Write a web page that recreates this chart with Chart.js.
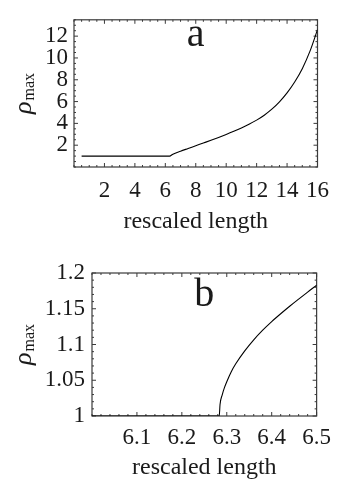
<!doctype html>
<html>
<head>
<title>rho max vs rescaled length</title>
<script src="https://cdn.jsdelivr.net/npm/chart.js@4.4.1/dist/chart.umd.min.js"></script>
<style>
	body { margin: 0; background: #fff; }
	#wrap { position: relative; width: 339px; height: 479px; }
	canvas { position: absolute; left: 0; }
	#chartA { top: 0; }
	#chartB { top: 240px; }
</style>
</head>
<body>
<div id="wrap">
	<canvas id="chartA" width="339" height="240"></canvas>
	<canvas id="chartB" width="339" height="239"></canvas>
</div>
<script>
// panel a: whole range of the rescaled length
var lengthA = [0.5, 6.28, 6.5, 7, 7.5, 8, 8.5, 9, 9.5, 10, 10.5, 11, 11.5, 12, 12.5, 13, 13.5, 14, 14.5, 15, 15.5, 16];
var rhoA    = [1, 1, 1.18, 1.45, 1.7, 1.95, 2.2, 2.45, 2.71, 2.98, 3.27, 3.58, 3.92, 4.3, 4.75, 5.3, 5.98, 6.8, 7.8, 9.02, 10.6, 12.6];
var xTicksA = [2, 4, 6, 8, 10, 12, 14, 16];
var yTicksA = [2, 4, 6, 8, 10, 12];

// panel b: close-up around the onset
var lengthB = [6.0, 6.2832, 6.285, 6.29, 6.295, 6.30, 6.31, 6.32, 6.34, 6.36, 6.38, 6.40, 6.42, 6.44, 6.46, 6.48, 6.50];
var rhoB    = [1, 1, 1.016, 1.030, 1.040, 1.048, 1.062, 1.073, 1.091, 1.1065, 1.12, 1.132, 1.143, 1.1535, 1.1635, 1.1733, 1.1828];
var xTicksB = [6.1, 6.2, 6.3, 6.4, 6.5];
var yTicksB = [1, 1.05, 1.1, 1.15, 1.2];

var SERIF = '"Liberation Serif", "Times New Roman", serif';
var INK = '#1a1a1a';

// frame with inward ticks on all four sides, panel letter and rho_max label
var framePlugin = {
	id: 'frame',
	beforeDatasetsDraw: function(chart, args, opts) {
		var ctx = chart.ctx, a = chart.chartArea;
		var x = chart.scales.x, y = chart.scales.y;
		ctx.save();
		ctx.strokeStyle = '#3a3a3a';
		ctx.lineWidth = 1.2;
		ctx.strokeRect(a.left, a.top, a.right - a.left, a.bottom - a.top);

		function ticksFor(scale, minor) {
			var out = [];
			var n = Math.round((scale.max - scale.min) / minor);
			for (var i = 0; i <= n; i++) {
				var v = scale.min + i * minor;
				var major = scale.ticks.some(function(t) { return Math.abs(t.value - v) < minor / 10; });
				out.push({ p: scale.getPixelForValue(v), len: major ? 4 : 2 });
			}
			return out;
		}
		ctx.lineWidth = 1;
		ctx.beginPath();
		ticksFor(x, opts.xMinor).forEach(function(t) {
			ctx.moveTo(t.p, a.bottom); ctx.lineTo(t.p, a.bottom - t.len);
			ctx.moveTo(t.p, a.top); ctx.lineTo(t.p, a.top + t.len);
		});
		ticksFor(y, opts.yMinor).forEach(function(t) {
			ctx.moveTo(a.left, t.p); ctx.lineTo(a.left + t.len, t.p);
			ctx.moveTo(a.right, t.p); ctx.lineTo(a.right - t.len, t.p);
		});
		ctx.stroke();
		ctx.restore();
	},
	afterDraw: function(chart, args, opts) {
		var ctx = chart.ctx, a = chart.chartArea;
		ctx.save();
		ctx.fillStyle = INK;
		ctx.font = '40px ' + SERIF;
		ctx.textAlign = 'center';
		ctx.textBaseline = 'alphabetic';
		ctx.fillText(opts.letter, (a.left + a.right) / 2, a.top + opts.letterDrop);

		// rotated rho with "max" subscript
		var cy = (a.top + a.bottom) / 2;
		ctx.translate(31, cy);
		ctx.rotate(-Math.PI / 2);
		ctx.textAlign = 'left';
		ctx.font = 'italic 26px ' + SERIF;
		var w1 = ctx.measureText('\u03c1').width;
		ctx.font = '16px ' + SERIF;
		var w2 = ctx.measureText('max').width;
		var start = -(w1 + w2 + 1) / 2;
		ctx.font = 'italic 26px ' + SERIF;
		ctx.fillText('\u03c1', start, 0);
		ctx.font = '16px ' + SERIF;
		ctx.fillText('max', start + w1 + 1, 3);
		ctx.restore();
	}
};

function makeChart(id, xs, ys, p) {
	var pts = xs.map(function(v, i) { return { x: v, y: ys[i] }; });
	return new Chart(document.getElementById(id), {
		type: 'line',
		data: {
			datasets: [{
				data: pts,
				borderColor: '#000',
				borderWidth: 1.1,
				pointRadius: 0,
				cubicInterpolationMode: 'monotone',
				fill: false
			}]
		},
		options: {
			responsive: false,
			animation: false,
			layout: { padding: { top: p.top, right: p.right, left: 0, bottom: 0 } },
			plugins: {
				legend: { display: false },
				tooltip: { enabled: false },
				frame: { letter: p.letter, letterDrop: p.letterDrop, xMinor: p.xMinor, yMinor: p.yMinor }
			},
			scales: {
				x: {
					type: 'linear',
					min: p.xMin, max: p.xMax,
					grid: { display: false, drawTicks: false },
					border: { display: false },
					afterBuildTicks: function(s) { s.ticks = p.xTicks.map(function(v) { return { value: v }; }); },
					afterFit: function(s) { s.height = p.xHeight; },
					ticks: {
						padding: p.xPad,
						maxRotation: 0,
						autoSkip: false,
						color: INK,
						font: { family: SERIF, size: 23 },
						callback: function(v) { return String(v); }
					},
					title: {
						display: true,
						text: 'rescaled length',
						color: INK,
						font: { family: SERIF, size: 24 },
						padding: { top: 0, bottom: p.titlePad }
					}
				},
				y: {
					type: 'linear',
					min: p.yMin, max: p.yMax,
					grid: { display: false, drawTicks: false },
					border: { display: false },
					afterBuildTicks: function(s) { s.ticks = p.yTicks.map(function(v) { return { value: v }; }); },
					afterFit: function(s) { s.width = p.yWidth; },
					ticks: {
						padding: p.yPad,
						autoSkip: false,
						color: INK,
						font: { family: SERIF, size: 23 },
						callback: function(v) { return String(v); }
					}
				}
			}
		},
		plugins: [framePlugin]
	});
}

window.onload = function() {
	makeChart('chartA', lengthA, rhoA, {
		letter: 'a', letterDrop: 26,
		xMin: 0, xMax: 16, yMin: 0, yMax: 13.5,
		xTicks: xTicksA, yTicks: yTicksA, xMinor: 0.5, yMinor: 0.5,
		top: 13, right: 14, yWidth: 74, xHeight: 73,
		xPad: 10, yPad: 6, titlePad: 4
	});
	makeChart('chartB', lengthB, rhoB, {
		letter: 'b', letterDrop: 33,
		xMin: 6.0, xMax: 6.5, yMin: 1, yMax: 1.2,
		xTicks: xTicksB, yTicks: yTicksB, xMinor: 0.02, yMinor: 0.01,
		top: 33, right: 16, yWidth: 92, xHeight: 63,
		xPad: 8, yPad: 7, titlePad: -3
	});
};
</script>
</body>
</html>
